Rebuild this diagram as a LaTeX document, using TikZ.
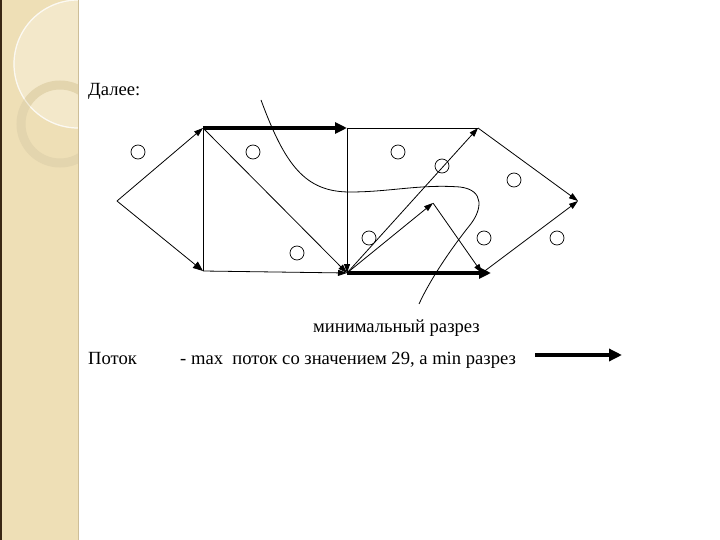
\documentclass[tikz,border=0pt]{standalone}
\usepackage{fontspec}
\setmainfont{Liberation Serif}
\usetikzlibrary{arrows.meta}
\definecolor{side}{HTML}{EEDFB6}
\definecolor{sidelight}{HTML}{F3E8CA}
\definecolor{sidering}{HTML}{E3D5AE}
\definecolor{sideedge}{HTML}{CDBE98}
\tikzset{
  thin/.style={line width=0.8pt,-{Triangle[length=9pt,width=6pt]}},
  plain/.style={line width=0.8pt},
  heavy/.style={line width=3.6pt,-{Triangle[length=12pt,width=11pt]}},
  hole/.style={circle,draw,line width=0.7pt,minimum size=14pt,inner sep=0pt},
  cut/.style={line width=0.8pt},
  lbl/.style={font=\fontsize{18.6}{21}\selectfont,inner sep=0pt}
}
\begin{document}
\begin{tikzpicture}[x=1pt,y=-1pt]
\useasboundingbox (0,0) rectangle (720,540);
% sidebar
\fill[side] (0,0) rectangle (78,540);
\begin{scope}
\clip (0,0) rectangle (78,540);
\fill[sidelight] (78,64) circle (64);
\draw[white,opacity=0.6,line width=1.2pt] (78,64) circle (64);
\draw[sidering,line width=9pt] (60,124) circle (39);
\draw[white,opacity=0.5,line width=1.2pt] (78,64) circle (64);
\end{scope}
\draw[sideedge,line width=1.5pt] (78.5,0) -- (78.5,540);
\draw[black!70!brown,line width=1.5pt] (0.75,0) -- (0.75,540);
% vertices
\coordinate (s) at (117,201);
\coordinate (A) at (203,128);
\coordinate (B) at (203,271);
\coordinate (C) at (347,128);
\coordinate (D) at (347,273);
\coordinate (E) at (478,128);
\coordinate (F) at (482,273);
\coordinate (M) at (433,203);
\coordinate (t) at (578,201);
% edges
\draw[thin] (s) -- (A);
\draw[line width=0.8pt,-{Triangle[length=10pt,width=8pt]}] (s) -- (B);
\draw[plain] (A) -- (B);
\draw[heavy] (A) -- (C);
\draw[thin] (A) -- (D);
\draw[thin] (B) -- (D);
\draw[thin] (C) -- (D);
\draw[plain] (C) -- (E);
\draw[thin] (D) -- (E);
\draw[thin] (D) -- (M);
\draw[thin] (M) -- (F);
\draw[heavy,shorten >=-9pt] (D) -- (F);
\draw[thin] (E) -- (t);
\draw[thin] (F) -- (t);
% holes
\node[hole] (h1) at (138,152) {};
\node[hole] (h2) at (253,152) {};
\node[hole] (h3) at (297,253) {};
\node[hole] (h4) at (398,152) {};
\node[hole] (h5) at (442,166) {};
\node[hole] (h6) at (514,180) {};
\node[hole] (h7) at (369,238) {};
\node[hole] (h8) at (484,238) {};
\node[hole] (h9) at (557,238) {};
% minimal cut
\coordinate (c0) at (261,100);
\coordinate (c1) at (419,304);
\draw[cut] (c0) .. controls (285,165) and (305,192) .. (350,192)
  .. controls (390,192) and (420,184) .. (460,187)
  .. controls (485,190) and (482,210) .. (470,225)
  .. controls (450,250) and (430,280) .. (c1);
% texts
\node[lbl,anchor=base west] (t1) at (88,96) {Далее:};
\node[lbl,anchor=base west] (t2) at (313,332) {минимальный разрез};
\node[lbl,anchor=base west] (t3) at (88,364) {Поток};
\node[lbl,anchor=base west] (t4) at (180,364) {- max\ \ поток со значением 29, а min разрез};
\coordinate (l0) at (535,355);
\coordinate (l1) at (622,355);
\draw[line width=4.5pt,-{Triangle[length=13pt,width=12pt]}] (l0) -- (l1);
\end{tikzpicture}
\end{document}
